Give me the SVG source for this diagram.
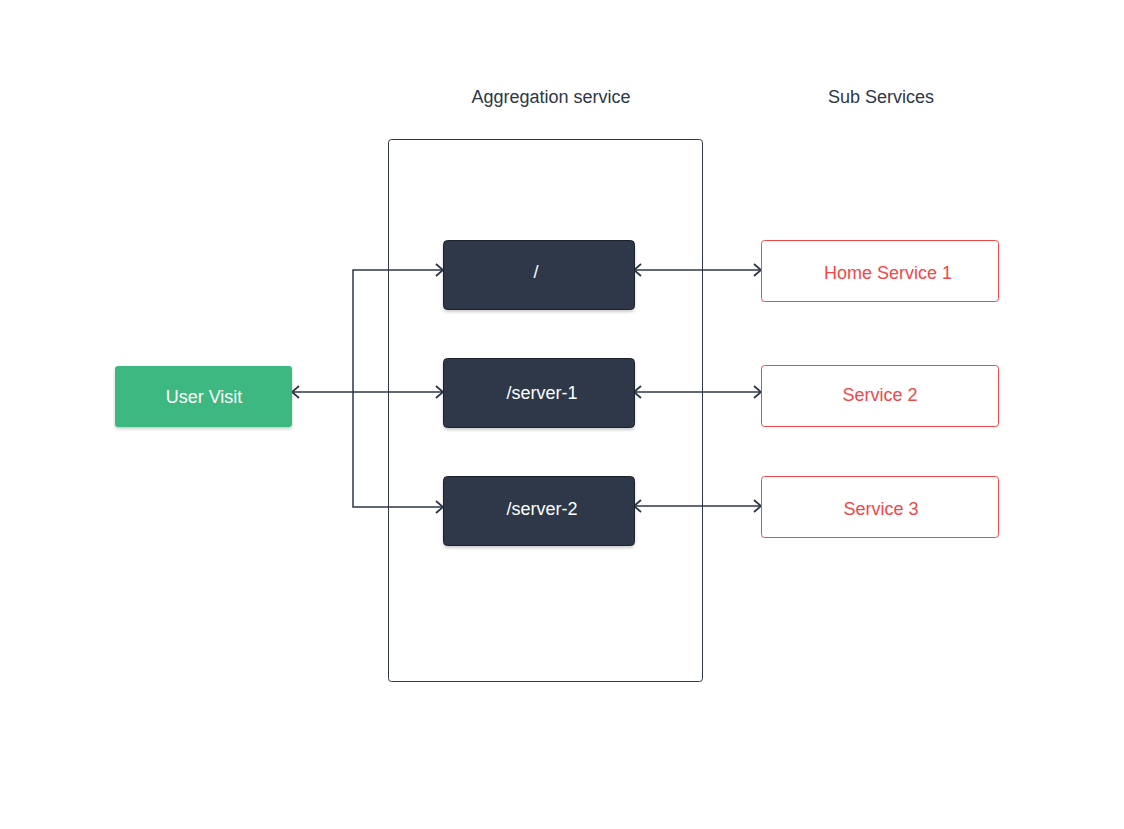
<svg xmlns="http://www.w3.org/2000/svg" width="1124" height="829" viewBox="0 0 1124 829">
<style>
  text { font-family: "Liberation Sans", Arial, sans-serif; font-size: 18px; text-anchor: middle; dominant-baseline: central; }
  .hdr { fill: #2d3748; }
  .dark rect { fill: #2d3748; stroke: #1a202c; stroke-width: 1; }
  .dark text { fill: #ffffff; }
  .sub rect { fill: #ffffff; stroke: #f04848; stroke-width: 1; }
  .sub text { fill: #f04848; }
  .conn { fill: none; stroke: #2d3748; stroke-width: 1.5; }
</style>
<defs>
  <marker id="arr" viewBox="0 0 10 14" refX="9" refY="7" markerWidth="10" markerHeight="14" markerUnits="userSpaceOnUse" orient="auto-start-reverse">
    <path d="M2,1 L9,7 L2,13" fill="none" stroke="#2d3748" stroke-width="1.8"/>
  </marker>
  <filter id="sh" x="-10%" y="-10%" width="120%" height="130%">
    <feDropShadow dx="0" dy="2" stdDeviation="1.5" flood-color="#000" flood-opacity="0.2"/>
  </filter>
</defs>
<rect width="1124" height="829" fill="#ffffff"/>
<text class="hdr" x="551" y="97">Aggregation service</text>
<text class="hdr" x="881" y="97">Sub Services</text>
<g id="container">
  <rect x="388.5" y="139.5" width="314" height="542" rx="3" fill="none" stroke="#2d3748" stroke-width="1"/>
</g>
<g id="connectors">
  <path class="conn" d="M443,270 H353 V507 H443" marker-start="url(#arr)" marker-end="url(#arr)"/>
  <path class="conn" d="M292,392 H443" marker-start="url(#arr)" marker-end="url(#arr)"/>
  <path class="conn" d="M634,270 H761" marker-start="url(#arr)" marker-end="url(#arr)"/>
  <path class="conn" d="M634,392 H761" marker-start="url(#arr)" marker-end="url(#arr)"/>
  <path class="conn" d="M634,506 H761" marker-start="url(#arr)" marker-end="url(#arr)"/>
</g>
<g id="user-visit">
  <rect x="115" y="366" width="177" height="61" rx="3" fill="#3cb880" filter="url(#sh)"/>
  <text x="204" y="397" fill="#ffffff">User Visit</text>
</g>
<g id="route-root" class="dark">
  <rect x="443.5" y="240.5" width="191" height="69" rx="4" filter="url(#sh)"/>
  <text x="536" y="272">/</text>
</g>
<g id="route-server-1" class="dark">
  <rect x="443.5" y="358.5" width="191" height="69" rx="4" filter="url(#sh)"/>
  <text x="542" y="393">/server-1</text>
</g>
<g id="route-server-2" class="dark">
  <rect x="443.5" y="476.5" width="191" height="69" rx="4" filter="url(#sh)"/>
  <text x="542" y="509">/server-2</text>
</g>
<g id="home-service-1" class="sub">
  <rect x="761.5" y="240.5" width="237" height="61" rx="3"/>
  <text x="888" y="273">Home Service 1</text>
</g>
<g id="service-2" class="sub">
  <rect x="761.5" y="365.5" width="237" height="61" rx="3"/>
  <text x="880" y="395">Service 2</text>
</g>
<g id="service-3" class="sub">
  <rect x="761.5" y="476.5" width="237" height="61" rx="3"/>
  <text x="881" y="509">Service 3</text>
</g>
</svg>
